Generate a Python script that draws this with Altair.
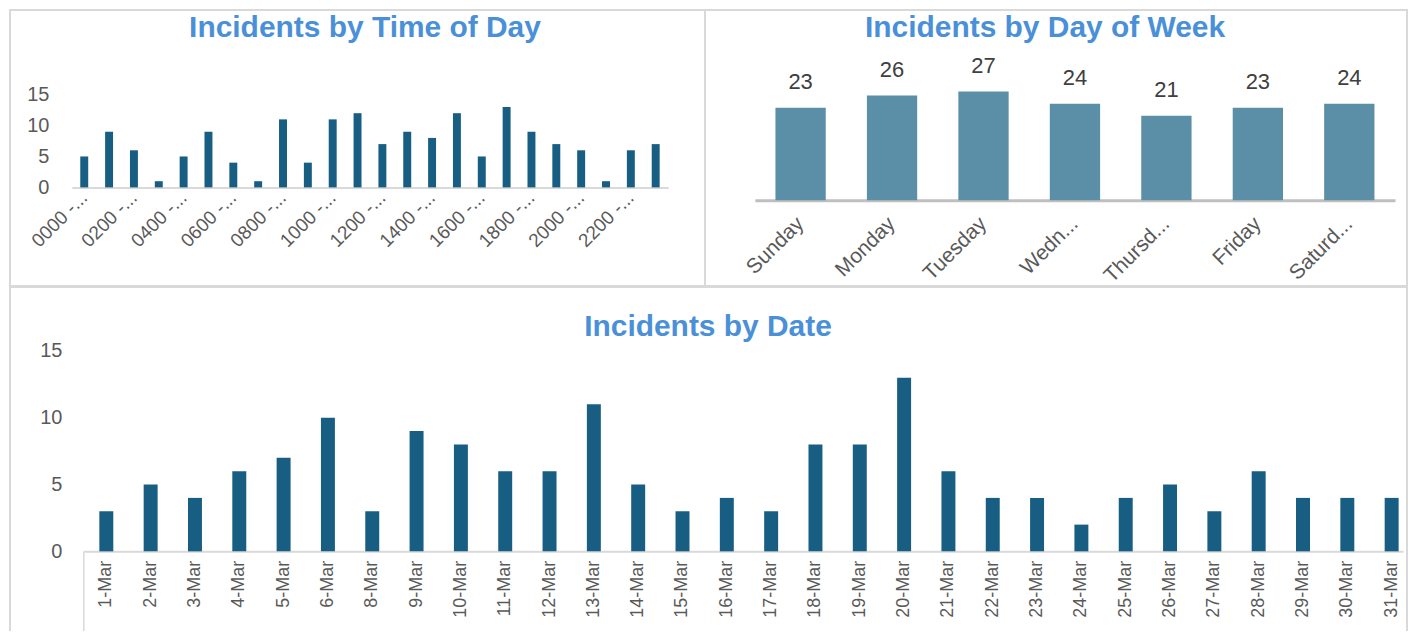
import altair as alt
import pandas as pd

# ---------------- data ----------------
TIME_SLOTS = [
    "0000 - 0059", "0100 - 0159", "0200 - 0259", "0300 - 0359",
    "0400 - 0459", "0500 - 0559", "0600 - 0659", "0700 - 0759",
    "0800 - 0859", "0900 - 0959", "1000 - 1059", "1100 - 1159",
    "1200 - 1259", "1300 - 1359", "1400 - 1459", "1500 - 1559",
    "1600 - 1659", "1700 - 1759", "1800 - 1859", "1900 - 1959",
    "2000 - 2059", "2100 - 2159", "2200 - 2259", "2300 - 2359",
]
TIME_COUNTS = [5, 9, 6, 1, 5, 9, 4, 1, 11, 4, 11, 12, 7, 9, 8, 12, 5, 13, 9, 7, 6, 1, 6, 7]

DAYS = ["Sunday", "Monday", "Tuesday", "Wednesday", "Thursday", "Friday", "Saturday"]
DAY_COUNTS = [23, 26, 27, 24, 21, 23, 24]
DAY_TICK_TEXT = ["Sunday", "Monday", "Tuesday", "Wedn...", "Thursd...", "Friday", "Saturd..."]

DATES = [
    "1-Mar", "2-Mar", "3-Mar", "4-Mar", "5-Mar", "6-Mar", "8-Mar", "9-Mar",
    "10-Mar", "11-Mar", "12-Mar", "13-Mar", "14-Mar", "15-Mar", "16-Mar",
    "17-Mar", "18-Mar", "19-Mar", "20-Mar", "21-Mar", "22-Mar", "23-Mar",
    "24-Mar", "25-Mar", "26-Mar", "27-Mar", "28-Mar", "29-Mar", "30-Mar", "31-Mar",
]
DATE_COUNTS = [3, 5, 4, 6, 7, 10, 3, 9, 8, 6, 6, 11, 5, 3, 4, 3, 8, 8, 13, 6, 4, 4, 2, 4, 5, 3, 6, 4, 4, 4]

TITLES = ["Incidents by Time of Day", "Incidents by Day of Week", "Incidents by Date"]

# ---------------- style ----------------
FONT = "Liberation Sans, Arial, sans-serif"
TITLE_COLOR = "#4A90D9"
DARK_BAR = "#175E82"
LIGHT_BAR = "#5B8FA7"
LABEL_COLOR = "#595959"
VALUE_COLOR = "#404040"
BORDER = "#D9D9D9"

time_df = pd.DataFrame({"slot": TIME_SLOTS, "count": TIME_COUNTS})
day_df = pd.DataFrame({"day": DAYS, "count": DAY_COUNTS})
date_df = pd.DataFrame({"date": DATES, "count": DATE_COUNTS})


def title_layer(text, cx, cy):
    return alt.Chart(pd.DataFrame({"t": [text]})).mark_text(
        font=FONT, fontSize=30, fontWeight="bold", color=TITLE_COLOR,
        align="center", baseline="alphabetic",
    ).encode(x=alt.value(cx), y=alt.value(cy), text="t:N")


# ---------------- panel 1: time of day ----------------
W1, H1 = 697, 277
BASE1 = 178
x1 = alt.X(
    "slot:N", sort=TIME_SLOTS,
    scale=alt.Scale(range=[62, 660], paddingInner=0.68, paddingOuter=0.34),
    axis=alt.Axis(
        title=None, values=TIME_SLOTS[::2],
        labelExpr="slice(datum.label, 0, 6) + '...'",
        labelAngle=-45, labelAlign="right", labelBaseline="middle",
        labelPadding=7, labelOverlap=False, labelFont=FONT, labelFontSize=19,
        labelColor=LABEL_COLOR, ticks=False, domainColor=BORDER, domainWidth=2,
        offset=-(H1 - BASE1),
    ),
)
y1 = alt.Y(
    "count:Q",
    scale=alt.Scale(domain=[0, 15], range=[BASE1, 85], nice=False),
    axis=alt.Axis(
        title=None, values=[0, 5, 10, 15], ticks=False, domain=False, grid=False,
        labelPadding=0, labelFont=FONT, labelFontSize=20, labelColor=LABEL_COLOR,
        offset=-39,
    ),
)
bars1 = alt.Chart(time_df).mark_bar(color=DARK_BAR).encode(x=x1, y=y1)
p1 = alt.layer(bars1, title_layer(TITLES[0], 356, 27)).properties(width=W1, height=H1)

# ---------------- panel 2: day of week ----------------
W2, H2 = 704, 277
BASE2 = 191
days_js = "[" + ",".join("'%s'" % d for d in DAYS) + "]"
shown_js = "[" + ",".join("'%s'" % d for d in DAY_TICK_TEXT) + "]"
x2 = alt.X(
    "day:N", sort=DAYS,
    scale=alt.Scale(range=[50, 692], paddingInner=0.45, paddingOuter=0.225),
    axis=alt.Axis(
        title=None, labelExpr=shown_js + "[indexof(" + days_js + ", datum.label)]",
        labelAngle=-45, labelAlign="right", labelBaseline="middle",
        labelPadding=20, labelOverlap=False, labelFont=FONT, labelFontSize=21,
        labelColor=LABEL_COLOR, ticks=False, domainColor="#BFBFBF", domainWidth=3,
        offset=-(H2 - BASE2),
    ),
)
y2 = alt.Y(
    "count:Q",
    scale=alt.Scale(domain=[0, 30], range=[BASE2, BASE2 - 121.2], nice=False),
    axis=None,
)
bars2 = alt.Chart(day_df).mark_bar(color=LIGHT_BAR).encode(x=x2, y=y2)
vals2 = alt.Chart(day_df).mark_text(
    font=FONT, fontSize=22, color=VALUE_COLOR, baseline="alphabetic", dy=-19
).encode(x=x2, y=y2, text="count:Q")
p2 = alt.layer(bars2, vals2, title_layer(TITLES[1], 341, 27)).properties(width=W2, height=H2)

# ---------------- panel 3: date ----------------
W3, H3 = 1401, 345
BASE3 = 265
x3 = alt.X(
    "date:N", sort=DATES,
    scale=alt.Scale(range=[74, 1397], paddingInner=0.685, paddingOuter=0.225, align=0.78),
    axis=alt.Axis(
        title=None, labelAngle=-90, labelAlign="right", labelBaseline="middle",
        labelPadding=9, labelOverlap=False, labelFont=FONT, labelFontSize=18,
        labelColor=LABEL_COLOR, ticks=False, domainColor=BORDER, domainWidth=2,
        offset=-(H3 - BASE3),
    ),
)
y3 = alt.Y(
    "count:Q",
    scale=alt.Scale(domain=[0, 15], range=[BASE3, 64], nice=False),
    axis=alt.Axis(
        title=None, values=[0, 5, 10, 15], ticks=False, domain=False, grid=False,
        labelPadding=0, labelFont=FONT, labelFontSize=20, labelColor=LABEL_COLOR,
        offset=-52,
    ),
)
bars3 = alt.Chart(date_df).mark_bar(color=DARK_BAR).encode(x=x3, y=y3)

frame_df = pd.DataFrame({"k": [0]})
frame = alt.Chart(frame_df).mark_rule(color=BORDER, strokeWidth=2)
left_edge = frame.encode(x=alt.value(0), y=alt.value(0), y2=alt.value(H3))
right_edge = frame.encode(x=alt.value(W3), y=alt.value(0), y2=alt.value(H3))
top_edge = frame.encode(x=alt.value(0), x2=alt.value(W3), y=alt.value(0))
cat_line = alt.Chart(frame_df).mark_rule(color=BORDER, strokeWidth=1.5).encode(
    x=alt.value(74), y=alt.value(BASE3), y2=alt.value(H3)
)

p3 = alt.layer(
    bars3, cat_line, left_edge, right_edge, top_edge, title_layer(TITLES[2], 700, 49)
).properties(width=W3, height=H3, view=alt.ViewBackground(stroke="transparent"))

chart = alt.vconcat(
    alt.hconcat(p1, p2, spacing=0, bounds="flush"),
    p3,
    spacing=-3,
).properties(padding=0).configure_view(stroke=BORDER, strokeWidth=2)

chart.save("out.html", embed_options={"renderer": "svg", "actions": False})
